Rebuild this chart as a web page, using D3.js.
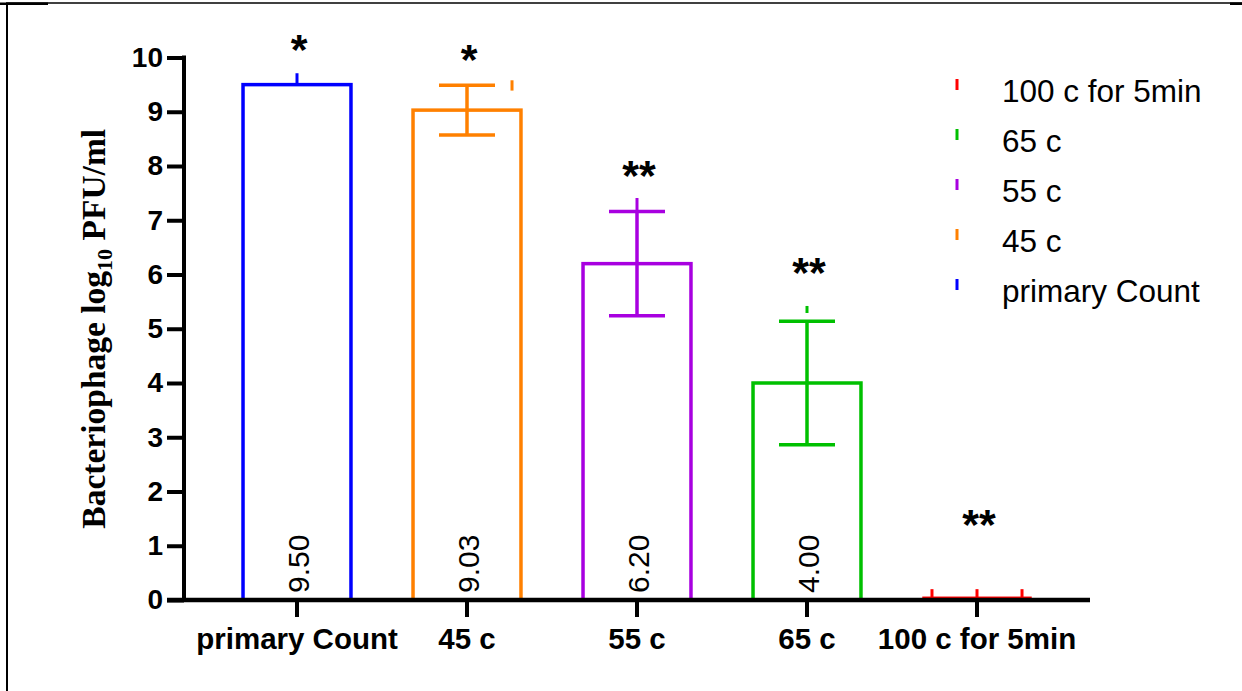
<!DOCTYPE html>
<html>
<head>
<meta charset="utf-8">
<script src="https://cdn.jsdelivr.net/npm/d3@7"></script>
<style>
  html, body { margin: 0; padding: 0; background: #fff; }
  svg { display: block; }
</style>
</head>
<body>
<script>
// ---- data ----
const categories = ["primary Count", "45 c", "55 c", "65 c", "100 c for 5min"];
const means = [9.50, 9.03, 6.20, 4.00, 0.05];
const sds = [0, 0.46, 0.96, 1.14, 0];
const valueLabels = ["9.50", "9.03", "6.20", "4.00", ""];
const colors = ["#0000ff", "#ff8000", "#a800e0", "#00c000", "#ff0000"];
const stars = ["*", "*", "**", "**", "**"];
const starLevels = [9.88, 9.69, 7.55, 5.77, 1.12];
// extra whisker marks: [category index, replicate slot (-1,0,1), low, high]
const replicateMarks = [
  [0, 0, 9.50, 9.71],
  [1, 1, 9.39, 9.58],
  [2, 0, 7.15, 7.41],
  [3, 0, 5.29, 5.42],
  [4, -1, 0.0, 0.20],
  [4, 0, 0.0, 0.20],
  [4, 1, 0.0, 0.20]
];
const yTicks = [0, 1, 2, 3, 4, 5, 6, 7, 8, 9, 10];
const legendOrder = ["100 c for 5min", "65 c", "55 c", "45 c", "primary Count"];

// ---- layout ----
const W = 1242, H = 691;
const svg = d3.select("body").append("svg").attr("width", W).attr("height", H);

// frame
svg.append("line").attr("x1", 7).attr("x2", 7).attr("y1", 3).attr("y2", H)
  .attr("stroke", "#000").attr("stroke-width", 2);
svg.append("line").attr("x1", 6).attr("x2", W).attr("y1", 3).attr("y2", 3)
  .attr("stroke", "#000").attr("stroke-width", 1.5);
svg.append("rect").attr("x", 0).attr("y", 2.5).attr("width", 48).attr("height", 2.5).attr("fill", "#000");
svg.append("rect").attr("x", 1230).attr("y", 2.5).attr("width", 12).attr("height", 2.5).attr("fill", "#000");

const x = d3.scaleBand().domain(categories).range([212, 1062])
  .paddingInner(0.365).paddingOuter(0.1825);
const y = d3.scaleLinear().domain([0, 10]).range([600, 57.5]);
const colorOf = d3.scaleOrdinal().domain(categories).range(colors);

const g = svg.append("g");

// bars
const data = categories.map((c, i) => ({c, i, m: means[i], sd: sds[i], label: valueLabels[i], star: stars[i], sl: starLevels[i]}));
g.selectAll("rect.bar").data(data).enter().append("rect")
  .attr("class", "bar")
  .attr("x", d => x(d.c))
  .attr("y", d => y(d.m))
  .attr("width", x.bandwidth())
  .attr("height", d => y(0) - y(d.m))
  .attr("fill", "none")
  .attr("stroke", d => colorOf(d.c))
  .attr("stroke-width", d => d.i === 4 ? 1.5 : 3.5);

// error bars
const capHalf = 28;
const eb = data.filter(d => d.sd > 0);
g.selectAll("line.ev").data(eb).enter().append("line")
  .attr("x1", d => x(d.c) + x.bandwidth() / 2).attr("x2", d => x(d.c) + x.bandwidth() / 2)
  .attr("y1", d => y(d.m - d.sd)).attr("y2", d => y(d.m + d.sd))
  .attr("stroke", d => colorOf(d.c)).attr("stroke-width", 3.5);
["lo", "hi"].forEach(k => {
  g.selectAll("line.cap" + k).data(eb).enter().append("line")
    .attr("x1", d => x(d.c) + x.bandwidth() / 2 - capHalf)
    .attr("x2", d => x(d.c) + x.bandwidth() / 2 + capHalf)
    .attr("y1", d => y(k === "lo" ? d.m - d.sd : d.m + d.sd))
    .attr("y2", d => y(k === "lo" ? d.m - d.sd : d.m + d.sd))
    .attr("stroke", d => colorOf(d.c)).attr("stroke-width", 3.5);
});

// replicate whisker marks
const slot = x.bandwidth() * 0.417;
g.selectAll("line.rep").data(replicateMarks).enter().append("line")
  .attr("x1", d => x(categories[d[0]]) + x.bandwidth() / 2 + d[1] * slot)
  .attr("x2", d => x(categories[d[0]]) + x.bandwidth() / 2 + d[1] * slot)
  .attr("y1", d => y(d[2])).attr("y2", d => y(d[3]))
  .attr("stroke", d => colors[d[0]]).attr("stroke-width", 3);

// value labels
g.selectAll("text.val").data(data.filter(d => d.label)).enter().append("text")
  .attr("transform", d => `translate(${x(d.c) + x.bandwidth() / 2 + 1},${y(0) - 7}) rotate(-90)`)
  .attr("dy", "0.36em")
  .attr("text-anchor", "start")
  .attr("font-family", "'Liberation Sans', Arial, sans-serif")
  .attr("font-size", 30)
  .attr("fill", "#000")
  .text(d => d.label);

// stars
g.selectAll("text.star").data(data).enter().append("text")
  .attr("x", d => x(d.c) + x.bandwidth() / 2 + 2)
  .attr("y", d => y(d.sl))
  .attr("text-anchor", "middle")
  .attr("font-family", "'Liberation Sans', Arial, sans-serif")
  .attr("font-size", 43)
  .attr("font-weight", "bold")
  .attr("fill", "#000")
  .text(d => d.star);

// axes
const yAxis = d3.axisLeft(y).tickValues(yTicks).tickFormat(d3.format("d"))
  .tickSize(17).tickSizeOuter(0).tickPadding(4);
const ya = svg.append("g").attr("transform", "translate(184,0)").call(yAxis);
ya.select(".domain").remove();
ya.append("line").attr("x1", 0).attr("x2", 0).attr("y1", y(10) - 2).attr("y2", y(0) + 2)
  .attr("stroke", "#000").attr("stroke-width", 4);
ya.selectAll(".tick line").attr("stroke", "#000").attr("stroke-width", 4);
ya.selectAll(".tick text").attr("font-family", "'Liberation Sans', Arial, sans-serif")
  .attr("font-size", 28).attr("font-weight", "bold").attr("fill", "#000");

const xAxis = d3.axisBottom(x).tickSize(17).tickSizeOuter(0).tickPadding(11);
const xa = svg.append("g").attr("transform", `translate(0,${y(0)})`).call(xAxis);
xa.select(".domain").remove();
xa.append("line").attr("x1", 167).attr("x2", 1090).attr("y1", 0).attr("y2", 0)
  .attr("stroke", "#000").attr("stroke-width", 4.5);
xa.selectAll(".tick line").attr("stroke", "#000").attr("stroke-width", 4);
xa.selectAll(".tick text").attr("font-family", "'Liberation Sans', Arial, sans-serif")
  .attr("font-size", 29.5).attr("font-weight", "bold").attr("fill", "#000");

// y axis title
const yt = svg.append("text")
  .attr("transform", `translate(105,${(y(0) + y(10)) / 2}) rotate(-90)`)
  .attr("text-anchor", "middle")
  .attr("font-family", "'Liberation Serif', 'Times New Roman', serif")
  .attr("font-size", 33.5)
  .attr("font-weight", "bold")
  .attr("fill", "#000");
yt.append("tspan").text("Bacteriophage log");
yt.append("tspan").attr("font-size", 22).attr("dy", 7).text("10");
yt.append("tspan").attr("dy", -7).text(" PFU/ml");

// legend
const leg = svg.append("g");
const ly = d3.scalePoint().domain(legendOrder).range([102, 302]);
const li = leg.selectAll("g").data(legendOrder).enter().append("g")
  .attr("transform", d => `translate(0,${ly(d)})`);
li.append("rect").attr("x", 955.5).attr("y", -23).attr("width", 3).attr("height", 11)
  .attr("fill", d => colorOf(d));
li.append("text").attr("x", 1002).attr("y", 0)
  .attr("font-family", "'Liberation Sans', Arial, sans-serif")
  .attr("font-size", 31.5).attr("fill", "#000")
  .text(d => d);
</script>
</body>
</html>
